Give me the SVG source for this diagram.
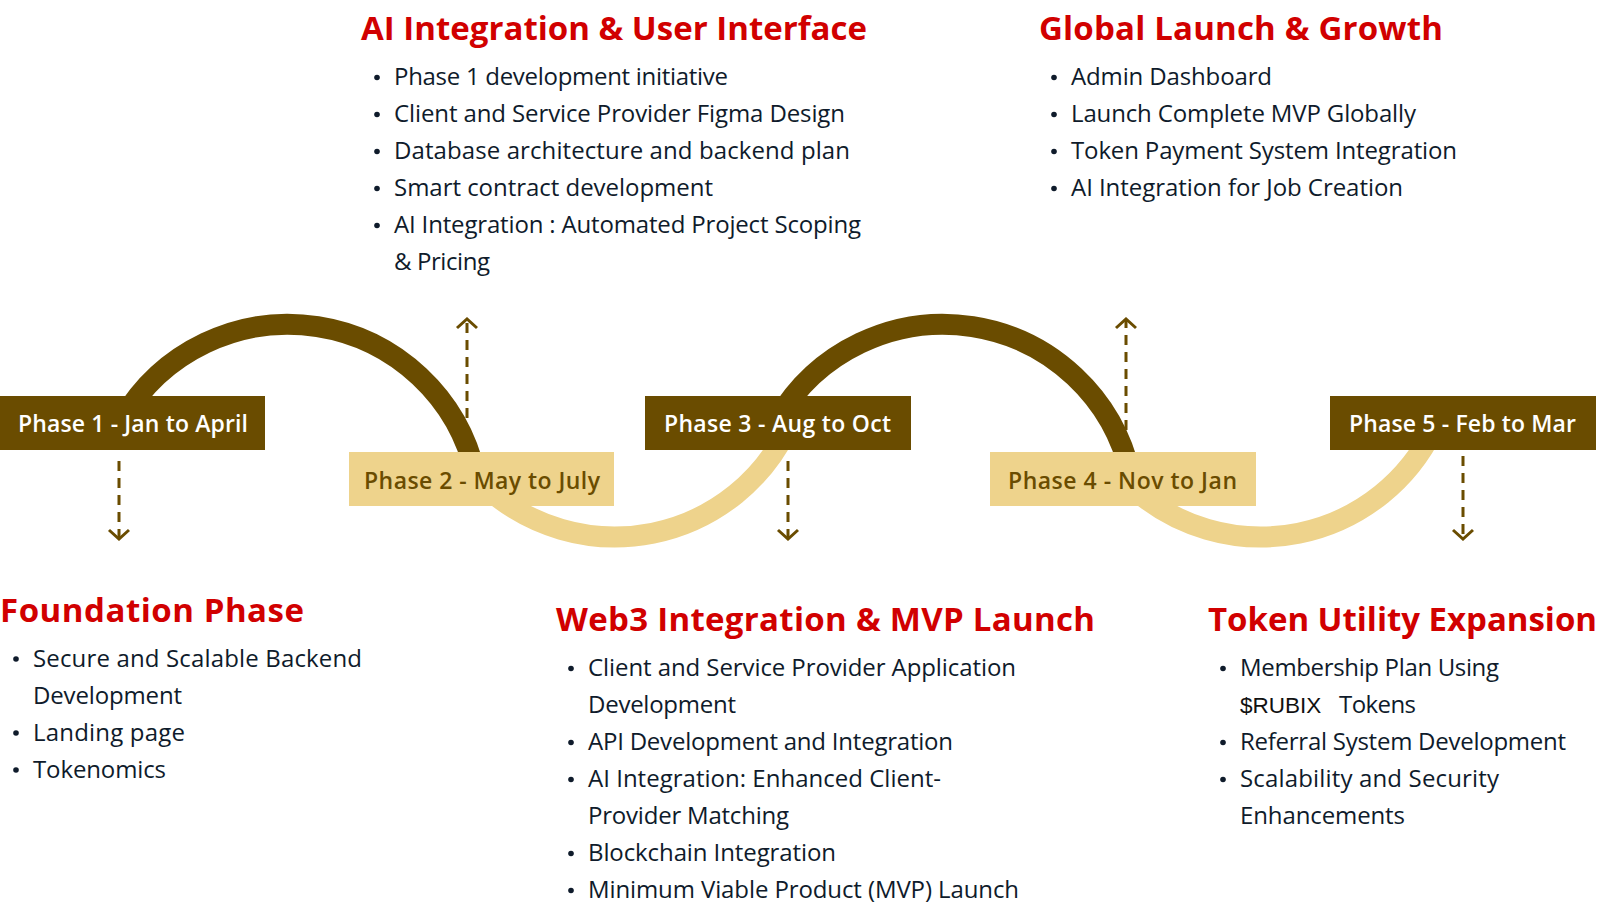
<svg xmlns="http://www.w3.org/2000/svg" width="1600" height="908" viewBox="0 0 1600 908">
  <style>
    .title{font-family:"Open Sans","Liberation Sans",sans-serif;font-weight:700;font-size:33px;fill:#D10000}
    .item{font-family:"Open Sans","Liberation Sans",sans-serif;font-weight:400;font-size:24px;fill:#0F1B2B}
    .token{font-family:"Liberation Sans","DejaVu Sans",sans-serif;font-weight:400;font-size:22.5px;fill:#111111}
    .dot{fill:#0F1B2B}
    .lbl{font-family:"Open Sans","Liberation Sans",sans-serif;font-weight:600;font-size:23px}
    .boxD{fill:#6A4C00}
    .boxL{fill:#EED38C}
    .lblD{fill:#FFFFFF}
    .lblL{fill:#6A4C00}
    .arcD{fill:none;stroke:#6A4C00;stroke-width:21}
    .arcL{fill:none;stroke:#EED38C;stroke-width:21}
    .dash{fill:none;stroke:#6A4C00;stroke-width:3;stroke-dasharray:10 7;marker-end:url(#chev)}
  </style>
  <defs>
    <marker id="chev" viewBox="-12 -12 14 24" markerWidth="14" markerHeight="24" refX="0" refY="0" orient="auto" markerUnits="userSpaceOnUse">
      <path d="M-9,-10 L0,0 L-9,10" fill="none" stroke="#6A4C00" stroke-width="3"/>
    </marker>
  </defs>

  <!-- wave and dashed pointers -->
  <g id="connectors">
    <path class="arcD" d="M122,420 A192,192 0 0 1 475.6,475"/>
    <path class="arcL" d="M489,490 A192,192 0 0 0 787,430"/>
    <path class="arcD" d="M777,420 A192,192 0 0 1 1130.6,475"/>
    <path class="arcL" d="M1135,490 A192,192 0 0 0 1433,430"/>
    <path class="dash" d="M119,461 V539"/>
    <path class="dash" d="M467,418 V319"/>
    <path class="dash" d="M788,461 V539"/>
    <path class="dash" d="M1126,430 V319"/>
    <path class="dash" d="M1463,456 V539"/>
  </g>

  <!-- phase boxes -->
  <g id="phase1">
    <rect class="boxD" x="0" y="396" width="265" height="54"/>
    <text class="lbl lblD" x="18" y="431.5" textLength="230">Phase 1 - Jan to April</text>
  </g>
  <g id="phase2">
    <rect class="boxL" x="349" y="452" width="265" height="54"/>
    <text class="lbl lblL" x="364" y="488.5" textLength="236">Phase 2 - May to July</text>
  </g>
  <g id="phase3">
    <rect class="boxD" x="645" y="396" width="266" height="54"/>
    <text class="lbl lblD" x="664" y="431.5" textLength="227">Phase 3 - Aug to Oct</text>
  </g>
  <g id="phase4">
    <rect class="boxL" x="990" y="452" width="266" height="54"/>
    <text class="lbl lblL" x="1008" y="488.5" textLength="229">Phase 4 - Nov to Jan</text>
  </g>
  <g id="phase5">
    <rect class="boxD" x="1330" y="396" width="266" height="54"/>
    <text class="lbl lblD" x="1349" y="431.5" textLength="227">Phase 5 - Feb to Mar</text>
  </g>

  <!-- Phase 1 details -->
  <g id="foundation">
    <text class="title" x="0" y="621.5" textLength="304">Foundation Phase</text>
    <circle class="dot" cx="16" cy="659" r="2.8"/>
    <text class="item" x="33" y="666.5" textLength="329">Secure and Scalable Backend</text>
    <text class="item" x="33" y="703.5" textLength="149">Development</text>
    <circle class="dot" cx="16" cy="733" r="2.8"/>
    <text class="item" x="33" y="740.5" textLength="152">Landing page</text>
    <circle class="dot" cx="16" cy="770" r="2.8"/>
    <text class="item" x="33" y="777.5" textLength="133">Tokenomics</text>
  </g>

  <!-- Phase 2 details -->
  <g id="ai-ui">
    <text class="title" x="361" y="39.5" textLength="506">AI Integration &amp; User Interface</text>
    <circle class="dot" cx="377" cy="77.5" r="2.8"/>
    <text class="item" x="394" y="84.5" textLength="334">Phase 1 development initiative</text>
    <circle class="dot" cx="377" cy="114.5" r="2.8"/>
    <text class="item" x="394" y="121.5" textLength="451">Client and Service Provider Figma Design</text>
    <circle class="dot" cx="377" cy="151.5" r="2.8"/>
    <text class="item" x="394" y="158.5" textLength="456">Database architecture and backend plan</text>
    <circle class="dot" cx="377" cy="188.5" r="2.8"/>
    <text class="item" x="394" y="195.5" textLength="319">Smart contract development</text>
    <circle class="dot" cx="377" cy="225.5" r="2.8"/>
    <text class="item" x="394" y="232.5" textLength="467">AI Integration : Automated Project Scoping</text>
    <text class="item" x="394" y="269.5" textLength="96">&amp; Pricing</text>
  </g>

  <!-- Phase 3 details -->
  <g id="web3-mvp">
    <text class="title" x="556" y="630.5" textLength="539">Web3 Integration &amp; MVP Launch</text>
    <circle class="dot" cx="571" cy="668.5" r="2.8"/>
    <text class="item" x="588" y="675.5" textLength="428">Client and Service Provider Application</text>
    <text class="item" x="588" y="712.5" textLength="148">Development</text>
    <circle class="dot" cx="571" cy="742.5" r="2.8"/>
    <text class="item" x="588" y="749.5" textLength="365">API Development and Integration</text>
    <circle class="dot" cx="571" cy="779.5" r="2.8"/>
    <text class="item" x="588" y="786.5" textLength="353">AI Integration: Enhanced Client-</text>
    <text class="item" x="588" y="823.5" textLength="201">Provider Matching</text>
    <circle class="dot" cx="571" cy="853.5" r="2.8"/>
    <text class="item" x="588" y="860.5" textLength="248">Blockchain Integration</text>
    <circle class="dot" cx="571" cy="890.5" r="2.8"/>
    <text class="item" x="588" y="897.5" textLength="431">Minimum Viable Product (MVP) Launch</text>
  </g>

  <!-- Phase 4 details -->
  <g id="global-launch">
    <text class="title" x="1039" y="39.5" textLength="404">Global Launch &amp; Growth</text>
    <circle class="dot" cx="1054" cy="77.5" r="2.8"/>
    <text class="item" x="1071" y="84.5" textLength="201">Admin Dashboard</text>
    <circle class="dot" cx="1054" cy="114.5" r="2.8"/>
    <text class="item" x="1071" y="121.5" textLength="345">Launch Complete MVP Globally</text>
    <circle class="dot" cx="1054" cy="151.5" r="2.8"/>
    <text class="item" x="1071" y="158.5" textLength="386">Token Payment System Integration</text>
    <circle class="dot" cx="1054" cy="188.5" r="2.8"/>
    <text class="item" x="1071" y="195.5" textLength="332">AI Integration for Job Creation</text>
  </g>

  <!-- Phase 5 details -->
  <g id="token-utility">
    <text class="title" x="1208" y="630.5" textLength="389">Token Utility Expansion</text>
    <circle class="dot" cx="1223" cy="668.5" r="2.8"/>
    <text class="item" x="1240" y="675.5" textLength="259">Membership Plan Using</text>
    <text class="token" x="1240" y="712.5">$RUBIX</text>
    <text class="item" x="1339" y="712.5" textLength="77">Tokens</text>
    <circle class="dot" cx="1223" cy="742.5" r="2.8"/>
    <text class="item" x="1240" y="749.5" textLength="326">Referral System Development</text>
    <circle class="dot" cx="1223" cy="779.5" r="2.8"/>
    <text class="item" x="1240" y="786.5" textLength="259">Scalability and Security</text>
    <text class="item" x="1240" y="823.5" textLength="165">Enhancements</text>
  </g>
</svg>
